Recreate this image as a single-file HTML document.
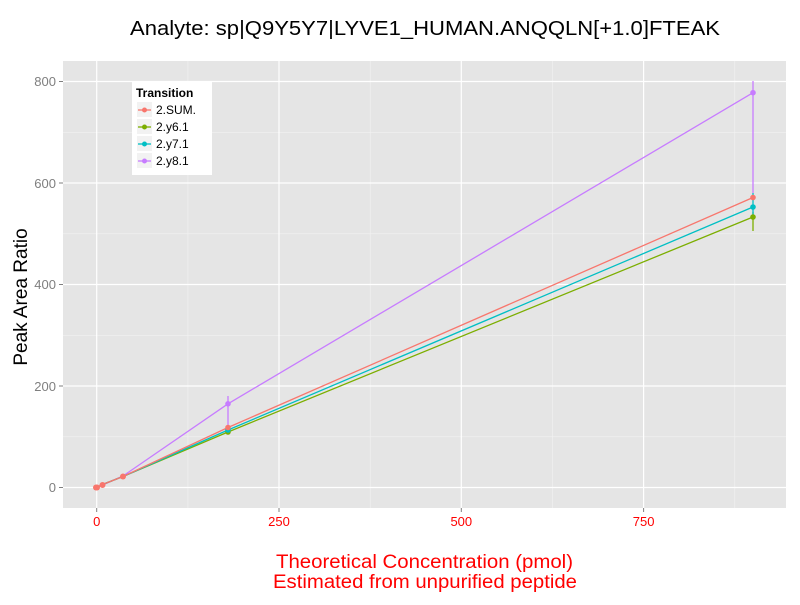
<!DOCTYPE html>
<html><head><style>body{margin:0;background:#fff}</style></head><body>
<svg width="800" height="600" xmlns="http://www.w3.org/2000/svg" font-family="Liberation Sans, sans-serif">
<rect x="63" y="61" width="723" height="447" fill="#e5e5e5"/>
<g stroke="#f2f2f2" stroke-width="0.6">
<line x1="63" x2="786" y1="436.8" y2="436.8"/><line x1="63" x2="786" y1="335.3" y2="335.3"/><line x1="63" x2="786" y1="233.8" y2="233.8"/><line x1="63" x2="786" y1="132.3" y2="132.3"/>
<line y1="61" y2="508" x1="187.9" x2="187.9"/><line y1="61" y2="508" x1="370.2" x2="370.2"/><line y1="61" y2="508" x1="552.5" x2="552.5"/><line y1="61" y2="508" x1="734.8" x2="734.8"/>
</g>
<g stroke="#fff" stroke-width="1.2">
<line x1="63" x2="786" y1="487.5" y2="487.5"/><line x1="63" x2="786" y1="386" y2="386"/><line x1="63" x2="786" y1="284.5" y2="284.5"/><line x1="63" x2="786" y1="183" y2="183"/><line x1="63" x2="786" y1="81.5" y2="81.5"/>
<line y1="61" y2="508" x1="96.7" x2="96.7"/><line y1="61" y2="508" x1="279" x2="279"/><line y1="61" y2="508" x1="461.3" x2="461.3"/><line y1="61" y2="508" x1="643.6" x2="643.6"/>
</g>
<g stroke-width="1.3" fill="none">
<polyline stroke="#c77cff" points="96.7,487.5 102.5,485 123,476 228,403.8 753,92.7"/>
<line stroke="#c77cff" x1="753" x2="753" y1="81" y2="193"/>
<line stroke="#c77cff" x1="228" x2="228" y1="396" y2="428"/>
<polyline stroke="#7cae00" points="96.7,487.5 102.5,484.5 123,476.5 228,432 753,217"/>
<line stroke="#7cae00" x1="753" x2="753" y1="212" y2="231"/>
<polyline stroke="#00bfc4" points="96.7,487.5 102.5,484.5 123,476.5 228,430 753,207"/>
<line stroke="#00bfc4" x1="753" x2="753" y1="193" y2="215"/>
<polyline stroke="#f8766d" points="96.7,487.5 102.5,484.5 123,476.5 228,427.5 753,197.5"/>
</g>
<g>
<circle cx="753" cy="92.7" r="2.8" fill="#c77cff"/><circle cx="228" cy="403.8" r="2.8" fill="#c77cff"/>
<circle cx="753" cy="217" r="2.8" fill="#7cae00"/><circle cx="228" cy="432" r="2.8" fill="#7cae00"/>
<circle cx="753" cy="207" r="2.8" fill="#00bfc4"/><circle cx="228" cy="430" r="2.8" fill="#00bfc4"/>
<circle cx="753" cy="197.5" r="2.8" fill="#f8766d"/><circle cx="228" cy="427.5" r="2.8" fill="#f8766d"/>
<circle cx="123" cy="476.5" r="3" fill="#f8766d"/><circle cx="102.5" cy="485" r="3" fill="#f8766d"/><circle cx="97" cy="487.5" r="3" fill="#f8766d"/><circle cx="96" cy="487.5" r="3" fill="#f8766d"/>
</g>
<g stroke="#7f7f7f" stroke-width="1">
<line x1="59" x2="63" y1="487.5" y2="487.5"/><line x1="59" x2="63" y1="386" y2="386"/><line x1="59" x2="63" y1="284.5" y2="284.5"/><line x1="59" x2="63" y1="183" y2="183"/><line x1="59" x2="63" y1="81.5" y2="81.5"/>
<line y1="508" y2="512" x1="96.7" x2="96.7"/><line y1="508" y2="512" x1="279" x2="279"/><line y1="508" y2="512" x1="461.3" x2="461.3"/><line y1="508" y2="512" x1="643.6" x2="643.6"/>
</g>
<g font-size="13" fill="#7f7f7f" text-anchor="end">
<text x="56" y="492">0</text><text x="56" y="391">200</text><text x="56" y="289">400</text><text x="56" y="188">600</text><text x="56" y="86">800</text>
</g>
<g font-size="13" fill="#ff0000" text-anchor="middle">
<text x="96.7" y="526">0</text><text x="279" y="526">250</text><text x="461.3" y="526">500</text><text x="643.6" y="526">750</text>
</g>
<text x="276" y="568" font-size="19" fill="#ff0000" textLength="297" lengthAdjust="spacingAndGlyphs">Theoretical Concentration (pmol)</text>
<text x="273" y="588" font-size="19" fill="#ff0000" textLength="304" lengthAdjust="spacingAndGlyphs">Estimated from unpurified peptide</text>
<text transform="translate(27,297) rotate(-90)" font-size="19" text-anchor="middle">Peak Area Ratio</text>
<text x="130" y="35" font-size="20" textLength="590" lengthAdjust="spacingAndGlyphs">Analyte: sp|Q9Y5Y7|LYVE1_HUMAN.ANQQLN[+1.0]FTEAK</text>
<rect x="132" y="82" width="80" height="93" fill="#fff"/>
<text x="136" y="97" font-size="12" font-weight="bold">Transition</text>
<g font-size="12">
<rect x="137" y="102" width="15" height="15" fill="#f2f2f2"/><line x1="138" x2="151" y1="110" y2="110" stroke="#f8766d" stroke-width="1.3"/><circle cx="144.5" cy="110" r="2.5" fill="#f8766d"/><text x="156" y="114">2.SUM.</text>
<rect x="137" y="119" width="15" height="15" fill="#f2f2f2"/><line x1="138" x2="151" y1="127" y2="127" stroke="#7cae00" stroke-width="1.3"/><circle cx="144.5" cy="127" r="2.5" fill="#7cae00"/><text x="156" y="131">2.y6.1</text>
<rect x="137" y="136" width="15" height="15" fill="#f2f2f2"/><line x1="138" x2="151" y1="144" y2="144" stroke="#00bfc4" stroke-width="1.3"/><circle cx="144.5" cy="144" r="2.5" fill="#00bfc4"/><text x="156" y="148">2.y7.1</text>
<rect x="137" y="153" width="15" height="15" fill="#f2f2f2"/><line x1="138" x2="151" y1="161" y2="161" stroke="#c77cff" stroke-width="1.3"/><circle cx="144.5" cy="161" r="2.5" fill="#c77cff"/><text x="156" y="165">2.y8.1</text>
</g>
</svg>
</body></html>
